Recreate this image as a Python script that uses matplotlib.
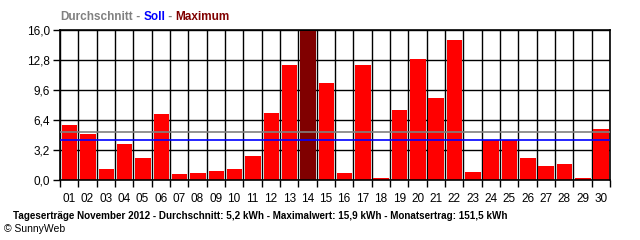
import matplotlib
matplotlib.use('Agg')
import matplotlib.pyplot as plt
import numpy as np

days = ['%02d' % d for d in range(1, 31)]
ertrag = [5.9, 4.9, 1.2, 3.8, 2.4, 7.0, 0.6, 0.8, 1.0, 1.2,
          2.6, 7.2, 12.3, 15.9, 10.3, 0.8, 12.3, 0.2, 7.5, 12.9,
          8.8, 14.9, 0.9, 4.3, 4.3, 2.4, 1.5, 1.7, 0.2, 5.4]
durchschnitt = 5.1
soll = 4.3
yticks = [0.0, 3.2, 6.4, 9.6, 12.8, 16.0]

plt.rcParams['font.family'] = ['Liberation Sans', 'DejaVu Sans']

fig = plt.figure(figsize=(6.4, 2.4), dpi=100)
ax = fig.add_axes([60/640, 1 - 180/240, 550/640, 150/240])

imax = int(np.argmax(ertrag))
colors = ['#FF0000'] * len(ertrag)
colors[imax] = '#800000'
x = np.arange(len(days))
ax.bar(x + 0.02, ertrag, width=0.84, color=colors, zorder=3, clip_on=False)

# Durchschnitt / Soll lines are drawn over the bars
ax.axhline(durchschnitt, color='#808080', lw=1.2, zorder=7)
ax.axhline(soll, color='#0000FF', lw=1.2, zorder=7)

ax.set_xlim(-0.5, len(days) - 0.5)
ax.set_ylim(0, 16)
ax.set_xticks(np.arange(len(days) + 1) - 0.5)
ax.set_xticklabels([])
ax.set_xticks(x, minor=True)
ax.set_xticklabels(days, minor=True)
ax.tick_params(axis='x', which='minor', length=0, pad=9, labelsize=8.5)
ax.tick_params(axis='x', which='major', length=5, width=1, direction='out')
ax.set_yticks(yticks)
ax.set_yticklabels([('%.1f' % v).replace('.', ',') for v in yticks])
ax.tick_params(axis='y', length=5, width=1, labelsize=8.5, pad=2)
ax.grid(True, which='major', color='black', lw=1, zorder=1)
ax.set_axisbelow(True)
for s in ax.spines.values():
    s.set_linewidth(1.2)
    s.set_zorder(5)

# header with coloured parts, placed one after the other
fig.canvas.draw()
renderer = fig.canvas.get_renderer()
parts = [('Durchschnitt', '#808080'), (' - ', '#808080'), ('Soll', '#0000FF'),
         (' - ', '#808080'), ('Maximum', '#800000')]
xpos = 60
for txt, col in parts:
    t = fig.text(xpos/640, 1 - 17/240, txt, color=col, fontsize=8.5, fontweight='bold', va='center')
    xpos += t.get_window_extent(renderer).width

# footer fitted to the reference width
title = 'Tageserträge November 2012 - Durchschnitt: 5,2 kWh - Maximalwert: 15,9 kWh - Monatsertrag: 151,5 kWh'
ft = fig.text(13/640, 1 - 216/240, title, fontsize=10, fontweight='bold', va='center')
w = ft.get_window_extent(renderer).width
ft.set_fontsize(10 * 496 / w)
fig.text(4/640, 1 - 229/240, '© SunnyWeb', fontsize=7.5, va='center')

fig.savefig('out.png', dpi=100)
